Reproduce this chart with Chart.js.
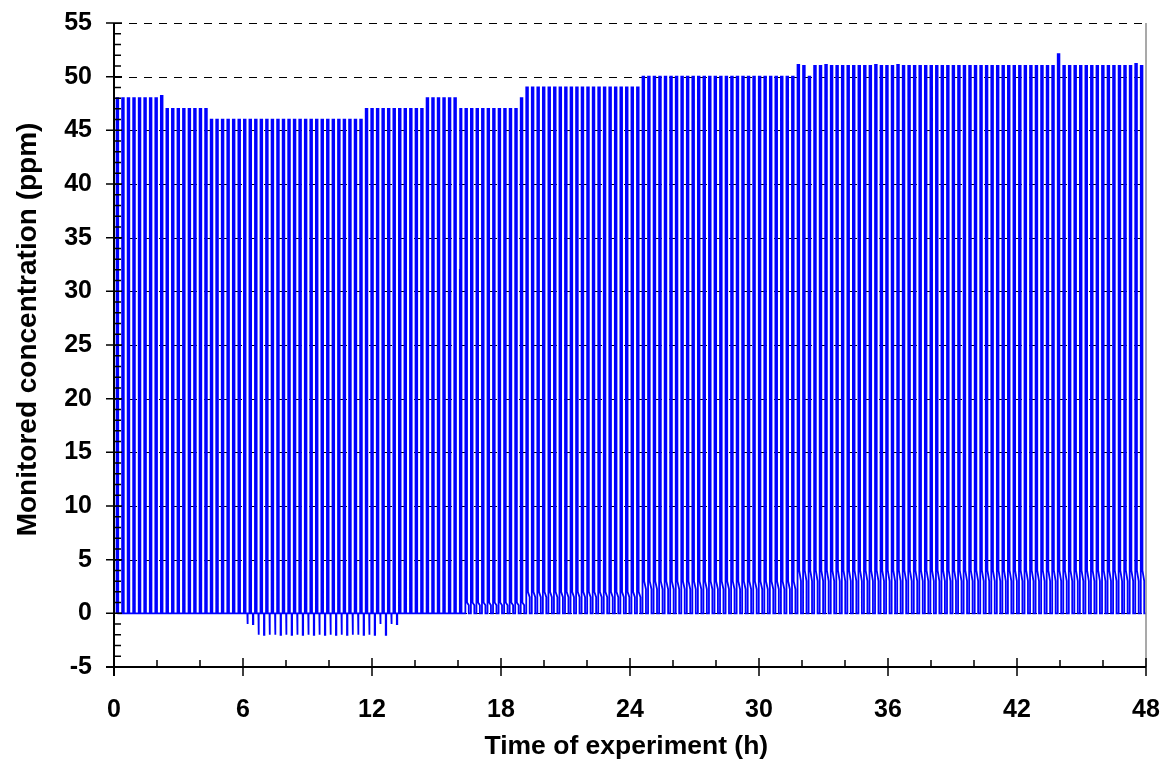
<!DOCTYPE html>
<html>
<head>
<meta charset="utf-8">
<script src="https://cdn.jsdelivr.net/npm/chart.js@4.4.0/dist/chart.umd.min.js"></script>
<style>
    html, body { margin: 0; padding: 0; background: #fff; }
</style>
</head>
<body>
<canvas id="lineChart" width="1167" height="771"></canvas>
<script>
// Axis ticks
var xTicks = [0, 6, 12, 18, 24, 30, 36, 42, 48];
var yTicks = [-5, 0, 5, 10, 15, 20, 25, 30, 35, 40, 45, 50, 55];

// Injection schedule (h)
var cycleStart = 0.12;
var cycleHours = 0.2575;

// Peak reading of every injection (ppm)
var peaks = [
    48, 48, 48, 48, 48, 48, 48, 48, 48.2,
    47, 47, 47, 47, 47, 47, 47, 47,
    46, 46, 46, 46, 46, 46, 46, 46, 46, 46, 46, 46, 46, 46,
    46, 46, 46, 46, 46, 46, 46, 46, 46, 46, 46, 46, 46, 46,
    47, 47, 47, 47, 47, 47, 47, 47, 47, 47, 47,
    48, 48, 48, 48, 48, 48,
    47,
    47, 47, 47, 47, 47, 47, 47, 47, 47, 47,
    48,
    49, 49, 49, 49, 49, 49, 49, 49, 49, 49, 49,
    49, 49, 49, 49, 49, 49, 49, 49, 49, 49,
    50, 50, 50, 50, 50, 50, 50, 50, 50, 50, 50, 50, 50, 50,
    50, 50, 50, 50, 50, 50, 50, 50, 50, 50, 50, 50, 50, 50,
    51.1, 51, 50, 51, 51, 51.1, 51, 51, 51, 51, 51,
    51, 51, 51, 51.1, 51, 51, 51, 51.1, 51, 51, 51,
    51, 51, 51, 51, 51, 51, 51, 51, 51, 51, 51,
    51, 51, 51, 51, 51, 51, 51, 51, 51, 51, 51,
    51, 51, 51,
    52.1,
    51, 51, 51, 51, 51, 51, 51, 51, 51, 51, 51, 51, 51, 51.2, 51, 51
];

// Reading between peaks: negative = undershoot, positive = tailing shoulder (ppm)
var lows = [
    0, 0, 0, 0, 0, 0, 0, 0, 0, 0, 0, 0, 0, 0, 0, 0, 0, 0, 0, 0, 0, 0, 0,
    -1, -1,
    -2, -2, -2, -2, -2, -2, -2, -2, -2, -2, -2,
    -2, -2, -2, -2, -2, -2, -2, -2, -2, -2, -2,
    -1, -2, -1, -1,
    0, 0, 0, 0, 0, 0, 0, 0, 0, 0, 0, 0, 1, 1, 1, 1, 1, 1, 1, 1, 1, 1, 1,
    2, 2, 2, 2, 2, 2, 2, 2, 2, 2, 2, 2, 2, 2, 2, 2, 2, 2, 2, 2, 2,
    3, 3, 3, 3, 3, 3, 3, 3, 3, 3, 3, 3, 3, 3,
    3, 3, 3, 3, 3, 3, 3, 3, 3, 3, 3, 3, 3, 3,
    4, 4, 4, 4, 4, 4, 4, 4, 4, 4, 4, 4, 4, 4, 4, 4,
    4, 4, 4, 4, 4, 4, 4, 4, 4, 4, 4, 4, 4, 4, 4, 4,
    4, 4, 4, 4, 4, 4, 4, 4, 4, 4, 4, 4, 4, 4, 4, 4,
    4, 4, 4, 4, 4, 4, 4, 4, 4, 4, 4, 4, 4, 4, 4, 4
];

// the one injection that came up in steps (around 16 h)
var stepCycle = 62;
var stepValue = 32;

var fontFamily = '"Liberation Sans", Arial, Helvetica, sans-serif';

// build the square-wave trace from the injection list
var trace = [];
var highPart = 0.3;
for (var i = 0; i < peaks.length; i++) {
    var t = cycleStart + i * cycleHours;
    var p = cycleHours;
    var up = (i === stepCycle) ? 0.06 * p : 0;
    trace.push({ x: t, y: 0 });
    if (i === stepCycle) {
        trace.push({ x: t, y: stepValue });
        trace.push({ x: t + up, y: stepValue });
    }
    trace.push({ x: t + up, y: peaks[i] });
    trace.push({ x: t + highPart * p, y: peaks[i] });
    if (lows[i] > 0) {
        // tail: drops to the shoulder, sags a little, then falls to zero
        trace.push({ x: t + highPart * p, y: lows[i] });
        trace.push({ x: t + 0.62 * p, y: lows[i] * 0.75 });
        trace.push({ x: t + 0.62 * p, y: 0 });
    } else {
        trace.push({ x: t + highPart * p, y: 0 });
        if (lows[i] < 0) {
            trace.push({ x: t + 0.62 * p, y: 0 });
            trace.push({ x: t + 0.62 * p, y: lows[i] });
            trace.push({ x: t + 0.7 * p, y: lows[i] });
            trace.push({ x: t + 0.7 * p, y: 0 });
        }
    }
}

// dashed grid, axes and tick marks
var framePlugin = {
    id: 'frame',
    beforeDatasetsDraw: function(chart) {
        var ctx = chart.ctx, area = chart.chartArea, ys = chart.scales.y;
        ctx.save();
        ctx.strokeStyle = '#000';
        ctx.lineWidth = 1;
        ctx.setLineDash([8, 7]);
        yTicks.forEach(function(v) {
            if (v === ys.min) return;
            var py = Math.round(ys.getPixelForValue(v)) + 0.5;
            ctx.beginPath();
            ctx.moveTo(area.left, py);
            ctx.lineTo(area.right, py);
            ctx.stroke();
        });
        ctx.restore();
    },
    afterDraw: function(chart) {
        var ctx = chart.ctx, a = chart.chartArea, xs = chart.scales.x, ys = chart.scales.y;
        ctx.save();
        ctx.strokeStyle = '#8c8c8c';
        ctx.lineWidth = 1.5;
        ctx.beginPath();
        ctx.moveTo(a.right, a.top);
        ctx.lineTo(a.right, a.bottom);
        ctx.stroke();

        ctx.strokeStyle = '#000';
        ctx.lineWidth = 1.5;
        ctx.beginPath();
        // minor y ticks, every 1 ppm, inside
        for (var v = ys.min; v <= ys.max; v += 1) {
            var py = ys.getPixelForValue(v);
            ctx.moveTo(a.left, py);
            ctx.lineTo(a.left + 7, py);
        }
        // major y ticks across the axis
        yTicks.forEach(function(v) {
            var py = ys.getPixelForValue(v);
            ctx.moveTo(a.left - 8, py);
            ctx.lineTo(a.left + 8, py);
        });
        // minor x ticks, every 2 h, inside
        for (var h = xs.min; h <= xs.max; h += 2) {
            var px = xs.getPixelForValue(h);
            ctx.moveTo(px, a.bottom);
            ctx.lineTo(px, a.bottom - 7);
        }
        // major x ticks across the axis
        xTicks.forEach(function(h) {
            var px = xs.getPixelForValue(h);
            ctx.moveTo(px, a.bottom - 9);
            ctx.lineTo(px, a.bottom + 9);
        });
        ctx.stroke();

        ctx.lineWidth = 2;
        ctx.beginPath();
        ctx.moveTo(a.left, a.top);
        ctx.lineTo(a.left, a.bottom + 9);
        ctx.moveTo(a.left - 8, a.bottom);
        ctx.lineTo(a.right, a.bottom);
        ctx.stroke();
        ctx.restore();
    }
};

// invisible tick marks only used to space the labels off the axis
var hiddenGrid = function(len) {
    return { display: true, drawOnChartArea: false, drawTicks: true, tickLength: len,
             color: 'rgba(0,0,0,0)', tickColor: 'rgba(0,0,0,0)' };
};

var ctx = document.getElementById('lineChart').getContext('2d');
var myChart = new Chart(ctx, {
    type: 'line',
    data: {
        datasets: [{
            label: 'Monitored concentration',
            data: trace,
            borderColor: '#0000ff',
            borderWidth: 1.8,
            pointRadius: 0,
            fill: false,
            tension: 0
        }]
    },
    options: {
        responsive: false,
        animation: false,
        devicePixelRatio: 1,
        layout: { padding: { left: 0, right: 21, top: 23, bottom: 0 } },
        plugins: {
            legend: { display: false },
            tooltip: { enabled: false }
        },
        scales: {
            x: {
                type: 'linear',
                min: 0,
                max: 48,
                afterBuildTicks: function(scale) {
                    scale.ticks = xTicks.map(function(v) { return { value: v }; });
                },
                afterFit: function(scale) { scale.height = 104; },
                ticks: {
                    autoSkip: false,
                    maxRotation: 0,
                    padding: 0,
                    color: '#000',
                    font: { family: fontFamily, size: 25, weight: 'bold' }
                },
                grid: hiddenGrid(28),
                border: { display: false },
                title: {
                    display: true,
                    text: 'Time of experiment (h) ',
                    color: '#000',
                    padding: { top: 0, bottom: 8 },
                    font: { family: fontFamily, size: 26.5, weight: 'bold' }
                }
            },
            y: {
                min: -5,
                max: 55,
                afterBuildTicks: function(scale) {
                    scale.ticks = yTicks.map(function(v) { return { value: v }; });
                },
                afterFit: function(scale) { scale.width = 114; },
                ticks: {
                    padding: 0,
                    color: '#000',
                    font: { family: fontFamily, size: 25, weight: 'bold' }
                },
                grid: hiddenGrid(22),
                border: { display: false },
                title: {
                    display: true,
                    text: '    Monitored concentration (ppm)',
                    color: '#000',
                    padding: { top: 11, bottom: 0 },
                    font: { family: fontFamily, size: 28, weight: 'bold' }
                }
            }
        }
    },
    plugins: [framePlugin]
});
</script>
</body>
</html>
